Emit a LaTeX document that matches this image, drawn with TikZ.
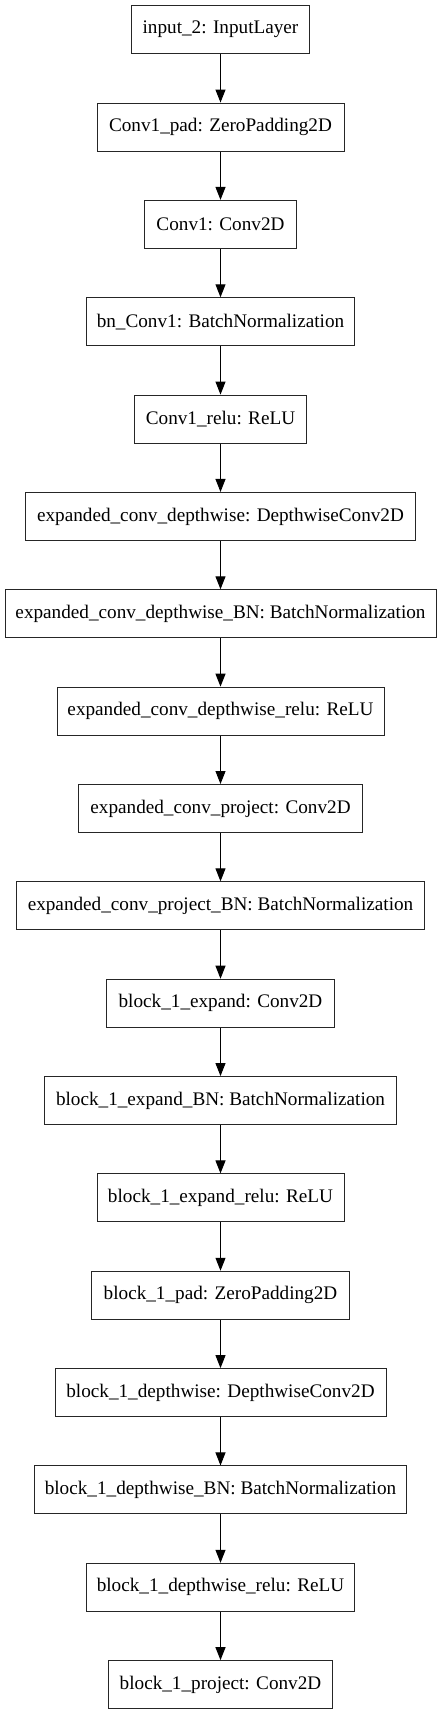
\documentclass[tikz,border=0pt]{standalone}
\usepackage{fontspec}
\setmainfont{Liberation Serif}
\usetikzlibrary{arrows.meta}
\tikzset{
  layer/.style={draw=black!85, line width=1pt, rectangle, minimum height=48pt, inner sep=0pt,
    font=\fontsize{19.2}{22}\selectfont, text=black},
  arr/.style={line width=1pt, black, -{Triangle[length=13pt,width=10pt]}}
}
\begin{document}
\begin{tikzpicture}[x=1pt,y=-1pt]
\useasboundingbox (0,0) rectangle (441,1715);
\def\cx{220.5}
\node[layer, minimum width=177.6pt] (n1)  at (\cx, 29.7)  {input\_2: InputLayer};
\node[layer, minimum width=247pt]   (n2)  at (\cx, 127.05) {Conv1\_pad: ZeroPadding2D};
\node[layer, minimum width=152pt]   (n3)  at (\cx, 224.4) {Conv1: Conv2D};
\node[layer, minimum width=268.4pt] (n4)  at (\cx, 321.75) {bn\_Conv1: BatchNormalization};
\node[layer, minimum width=171.3pt] (n5)  at (\cx, 419.1) {Conv1\_relu: ReLU};
\node[layer, minimum width=389.6pt] (n6)  at (\cx, 516.45) {expanded\_conv\_depthwise: DepthwiseConv2D};
\node[layer, minimum width=431pt]   (n7)  at (\cx, 613.8) {expanded\_conv\_depthwise\_BN: BatchNormalization};
\node[layer, minimum width=327pt]   (n8)  at (\cx, 711.15) {expanded\_conv\_depthwise\_relu: ReLU};
\node[layer, minimum width=283.3pt] (n9)  at (\cx, 808.5) {expanded\_conv\_project: Conv2D};
\node[layer, minimum width=407.3pt] (n10) at (\cx, 905.85) {expanded\_conv\_project\_BN: BatchNormalization};
\node[layer, minimum width=228pt]   (n11) at (\cx, 1003.2) {block\_1\_expand: Conv2D};
\node[layer, minimum width=351.3pt] (n12) at (\cx, 1100.55) {block\_1\_expand\_BN: BatchNormalization};
\node[layer, minimum width=247pt]   (n13) at (\cx, 1197.9) {block\_1\_expand\_relu: ReLU};
\node[layer, minimum width=257.3pt] (n14) at (\cx, 1295.25) {block\_1\_pad: ZeroPadding2D};
\node[layer, minimum width=331pt]   (n15) at (\cx, 1392.6) {block\_1\_depthwise: DepthwiseConv2D};
\node[layer, minimum width=372.4pt] (n16) at (\cx, 1489.95) {block\_1\_depthwise\_BN: BatchNormalization};
\node[layer, minimum width=268pt]   (n17) at (\cx, 1587.3) {block\_1\_depthwise\_relu: ReLU};
\node[layer, minimum width=224.4pt] (n18) at (\cx, 1684.65) {block\_1\_project: Conv2D};
\foreach \a [evaluate=\a as \b using int(\a+1)] in {1,...,17}
  \draw[arr] (n\a) -- (n\b);
\end{tikzpicture}
\end{document}
